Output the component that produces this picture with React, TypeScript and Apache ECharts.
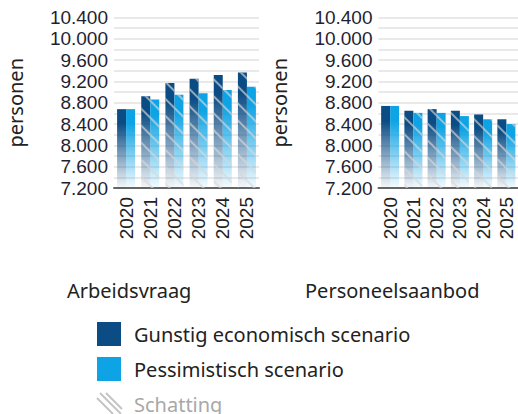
import React, { useEffect, useRef } from "react";
import * as echarts from "echarts";

const categories = ["2020", "2021", "2022", "2023", "2024", "2025"];
const vraagGunstig = [8680, 8920, 9170, 9250, 9320, 9370];
const vraagPessimistisch = [8680, 8860, 8950, 8980, 9040, 9100];
const aanbodGunstig = [8740, 8650, 8680, 8650, 8580, 8490];
const aanbodPessimistisch = [8740, 8610, 8610, 8550, 8490, 8400];
const isEstimate = [false, true, true, true, true, true];
const panelTitles = ["Arbeidsvraag", "Personeelsaanbod"];
const seriesNames = ["Gunstig economisch scenario", "Pessimistisch scenario"];
const estimateLabel = "Schatting";
const yMin = 7200;
const yMax = 10400;
const yInterval = 400;

const DARK = "#0b4c84";
const LIGHT = "#0ea3e4";
const FONT = "Noto Sans";
const TICKFONT = "Liberation Sans";

function grad(c: string, rgb: string) {
  return new echarts.graphic.LinearGradient(0, 0, 0, 1, [
    { offset: 0, color: c },
    { offset: 0.18, color: c },
    { offset: 1, color: `rgba(${rgb},0.04)` },
  ]);
}

const decal = {
  symbol: "rect",
  symbolSize: 1,
  color: "rgba(215,215,215,0.65)",
  dashArrayX: [1, 0],
  dashArrayY: [2, 10],
  rotation: Math.PI / 4,
};

function makeData(vals: number[]) {
  return vals.map((v, i) =>
    isEstimate[i] ? { value: v, itemStyle: { decal } } : { value: v }
  );
}

function fmt(v: number) {
  return String(v).replace(/\B(?=(\d{3})+(?!\d))/g, ".");
}

export default function App() {
  const ref = useRef<HTMLDivElement>(null);
  useEffect(() => {
    if (!ref.current) return;
    const chart = echarts.init(ref.current, undefined, { renderer: "svg" });
    const grids = [
      { left: 114, top: 17.5, width: 145, height: 170.5 },
      { left: 378.5, top: 17.5, width: 145, height: 170.5 },
    ];
    const xAxes = grids.map((_, i) => ({
      type: "category",
      gridIndex: i,
      data: categories,
      boundaryGap: true,
      axisLine: { lineStyle: { color: "#666", width: 2 } },
      axisTick: { show: false },
      axisLabel: {
        rotate: 90,
        interval: 0,
        fontSize: 19,
        color: "#222",
        margin: 9,
        fontFamily: TICKFONT,
      },
    }));
    const yAxes = grids.map((_, i) => ({
      type: "value",
      gridIndex: i,
      min: yMin,
      max: yMax,
      interval: yInterval,
      name: "personen",
      nameLocation: "middle",
      nameRotate: 90,
      nameGap: 89,
      nameTextStyle: { fontSize: 20, color: "#222", fontFamily: FONT },
      axisLine: { show: false },
      axisTick: { show: false },
      axisLabel: {
        fontSize: 19,
        color: "#1f1f33",
        margin: 6,
        fontFamily: TICKFONT,
        formatter: (v: number) => fmt(v),
      },
      splitLine: { show: true, lineStyle: { color: "#e2e2e2", width: 1.5 } },
      minorTick: { show: false, splitNumber: 2 },
      minorSplitLine: { show: true, lineStyle: { color: "#e2e2e2", width: 1.5 } },
    }));
    const mk = (name: string, vals: number[], idx: number, c: string, rgb: string) => ({
      type: "bar",
      name,
      xAxisIndex: idx,
      yAxisIndex: idx,
      barWidth: 9,
      barGap: "0%",
      itemStyle: { color: grad(c, rgb) },
      data: makeData(vals),
    });
    chart.setOption({
      animation: false,
      textStyle: { fontFamily: FONT },
      grid: grids,
      xAxis: xAxes,
      yAxis: yAxes,
      title: [
        {
          text: panelTitles[0],
          left: 67,
          top: 280,
          padding: 0,
          textStyle: { fontSize: 20, fontWeight: "normal", color: "#222", fontFamily: FONT },
        },
        {
          text: panelTitles[1],
          left: 305,
          top: 280,
          padding: 0,
          textStyle: { fontSize: 20, fontWeight: "normal", color: "#222", fontFamily: FONT },
        },
      ],
      legend: {
        orient: "vertical",
        left: 97,
        top: 322,
        padding: 0,
        itemWidth: 24,
        itemHeight: 24,
        itemGap: 11,
        icon: "rect",
        selectedMode: false,
        textStyle: { fontSize: 20, color: "#222", fontFamily: FONT, padding: [0, 0, 0, 8] },
        data: [
          { name: seriesNames[0], itemStyle: { color: DARK, decal: "none" } },
          { name: seriesNames[1], itemStyle: { color: LIGHT, decal: "none" } },
        ],
      },
      graphic: [
        {
          type: "group",
          children: [
            { type: "line", shape: { x1: 97, y1: 398, x2: 113, y2: 414 }, style: { stroke: "#c4c4c4", lineWidth: 2 } },
            { type: "line", shape: { x1: 100, y1: 393, x2: 121, y2: 414 }, style: { stroke: "#c4c4c4", lineWidth: 2 } },
            { type: "line", shape: { x1: 106, y1: 393, x2: 122, y2: 409 }, style: { stroke: "#c4c4c4", lineWidth: 2 } },
          ],
        },
        {
          type: "text",
          x: 134,
          y: 404,
          style: {
            text: estimateLabel,
            fontSize: 20,
            fill: "#a8a8a8",
            fontFamily: FONT,
            verticalAlign: "middle",
          },
        },
      ],
      series: [
        mk(seriesNames[0], vraagGunstig, 0, DARK, "11,76,132"),
        mk(seriesNames[1], vraagPessimistisch, 0, LIGHT, "14,163,228"),
        mk(seriesNames[0], aanbodGunstig, 1, DARK, "11,76,132"),
        mk(seriesNames[1], aanbodPessimistisch, 1, LIGHT, "14,163,228"),
      ],
    });
    return () => chart.dispose();
  }, []);
  return (
    <div
      ref={ref}
      style={{ position: "absolute", left: 0, top: 0, width: 518, height: 414 }}
    />
  );
}
